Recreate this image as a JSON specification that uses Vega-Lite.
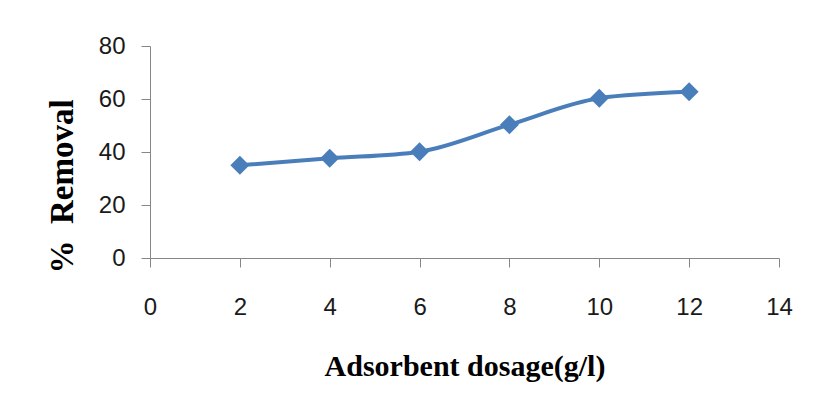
{
  "$schema": "https://vega.github.io/schema/vega-lite/v6.json",
  "width": 629,
  "height": 212,
  "autosize": {"type": "none"},
  "padding": {"left": 150, "top": 46, "right": 34, "bottom": 152},
  "background": "white",
  "config": {
    "view": {"stroke": null},
    "axis": {
      "grid": false,
      "domainColor": "#868686",
      "tickColor": "#868686",
      "domainWidth": 1,
      "tickWidth": 1,
      "tickSize": 9,
      "labelFlush": false,
      "labelOverlap": false,
      "labelFont": "Liberation Sans",
      "labelFontSize": 24,
      "labelColor": "#1a1a1a",
      "titleFont": "Liberation Serif",
      "titleFontSize": 30,
      "titleFontWeight": "bold",
      "titleColor": "#000000"
    }
  },
  "data": {
    "values": [
      {"dosage": 2, "removal": 35.0},
      {"dosage": 4, "removal": 37.6},
      {"dosage": 6, "removal": 40.1},
      {"dosage": 8, "removal": 50.3},
      {"dosage": 10, "removal": 60.3},
      {"dosage": 12, "removal": 62.7}
    ]
  },
  "encoding": {
    "x": {
      "field": "dosage",
      "type": "quantitative",
      "scale": {"domain": [0, 14], "nice": false, "zero": false},
      "axis": {
        "values": [0, 2, 4, 6, 8, 10, 12, 14],
        "title": "Adsorbent dosage(g/l)",
        "labelPadding": 28,
        "labelBaseline": "top",
        "titleBaseline": "alphabetic",
        "titleY": 117
      }
    },
    "y": {
      "field": "removal",
      "type": "quantitative",
      "scale": {"domain": [0, 80], "nice": false},
      "axis": {
        "values": [0, 20, 40, 60, 80],
        "title": "%\u00a0\u00a0Removal",
        "titleFontSize": 33,
        "labelPadding": 16,
        "titleBaseline": "alphabetic",
        "titleX": -78,
        "titleY": 140,
        "titleAngle": -90
      }
    }
  },
  "layer": [
    {
      "mark": {"type": "line", "interpolate": "monotone", "color": "#4a7ebb", "strokeWidth": 4}
    },
    {
      "mark": {"type": "point", "shape": "diamond", "filled": true, "size": 360, "color": "#4a7ebb", "opacity": 1}
    }
  ]
}
